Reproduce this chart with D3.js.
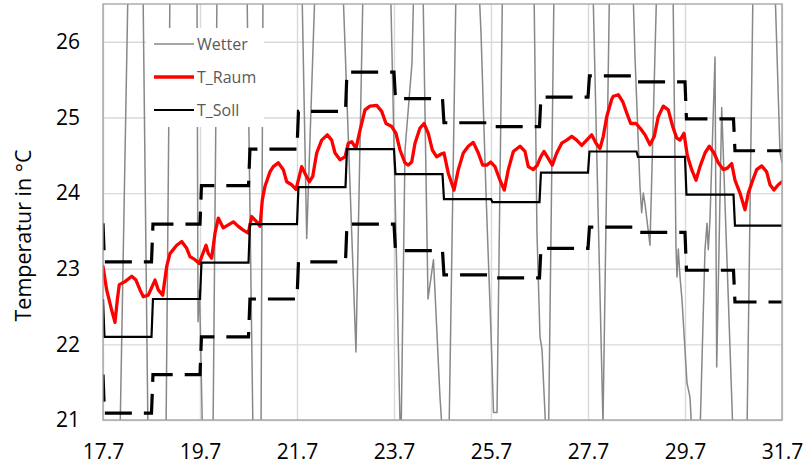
<!DOCTYPE html>
<html><head><meta charset="utf-8">
<script src="https://cdn.jsdelivr.net/npm/d3@7"></script>
<style>body{margin:0;background:#fff} svg{display:block}</style>
</head><body>
<svg id="c" width="806" height="468"></svg>
<script>
// ---- data ----
// time in days since 17.7 00:00
const tickDays = [0, 2, 4, 6, 8, 10, 12, 14];
const tickLabels = ["17.7", "19.7", "21.7", "23.7", "25.7", "27.7", "29.7", "31.7"];
const yTicks = [21, 22, 23, 24, 25, 26];

// T_Soll daily set point (first value = value before the first switch)
const soll  = [22.6, 22.1, 22.6, 23.08, 23.59, 24.08, 24.58, 24.25, 23.92, 23.88, 24.27, 24.55, 24.48, 23.98, 23.57];
// upper / lower comfort band (dashed)
const upper = [23.6, 23.09, 23.59, 24.1, 24.58, 25.08, 25.6, 25.25, 24.93, 24.88, 25.27, 25.55, 25.47, 24.98, 24.56];
const lower = [21.6, 21.09, 21.6, 22.1, 22.6, 23.09, 23.59, 23.24, 22.92, 22.88, 23.27, 23.55, 23.48, 22.98, 22.56];

// T_Raum [day, °C]
const raum = [
[0.0,23.03],[0.076,22.72],[0.18,22.45],[0.247,22.29],[0.295,22.59],[0.336,22.79],[0.454,22.83],[0.592,22.9],[0.68,22.85],[0.763,22.72],[0.831,22.63],[0.934,22.65],
[1.072,22.85],[1.14,22.72],[1.231,22.65],[1.313,23.03],[1.381,23.2],[1.52,23.31],[1.623,23.36],[1.726,23.27],[1.794,23.16],[1.897,23.12],[1.986,23.07],
[2.035,23.16],[2.124,23.31],[2.171,23.2],[2.241,23.14],[2.309,23.47],[2.377,23.67],[2.48,23.54],[2.584,23.58],[2.687,23.62],[2.79,23.56],[2.893,23.51],[2.996,23.47],
[3.066,23.69],[3.169,23.62],[3.237,23.56],[3.285,23.91],[3.34,24.09],[3.443,24.28],[3.511,24.35],[3.614,24.4],[3.718,24.31],[3.788,24.15],[3.891,24.11],[3.979,24.05],
[4.047,24.22],[4.097,24.35],[4.165,24.26],[4.254,24.15],[4.324,24.22],[4.406,24.53],[4.509,24.7],[4.625,24.77],[4.715,24.7],[4.784,24.53],[4.887,24.44],[4.99,24.48],
[5.058,24.66],[5.128,24.68],[5.216,24.59],[5.299,24.83],[5.402,25.1],[5.505,25.15],[5.643,25.16],[5.746,25.08],[5.835,24.92],[5.953,24.88],
[6.041,24.79],[6.124,24.57],[6.227,24.4],[6.295,24.37],[6.365,24.41],[6.433,24.66],[6.536,24.86],[6.619,24.92],[6.707,24.79],[6.79,24.57],[6.881,24.48],[6.984,24.52],
[7.031,24.53],[7.12,24.26],[7.237,24.04],[7.326,24.31],[7.429,24.53],[7.532,24.62],[7.635,24.67],[7.738,24.53],[7.829,24.37],[7.911,24.37],[7.994,24.41],
[8.082,24.35],[8.186,24.17],[8.274,24.04],[8.357,24.31],[8.46,24.55],[8.598,24.62],[8.701,24.55],[8.769,24.35],[8.872,24.31],[8.955,24.37],
[9.025,24.48],[9.093,24.55],[9.181,24.46],[9.264,24.37],[9.355,24.53],[9.458,24.66],[9.561,24.7],[9.664,24.75],[9.767,24.7],[9.87,24.63],[9.973,24.7],
[10.076,24.77],[10.165,24.66],[10.247,24.59],[10.315,24.75],[10.386,25.01],[10.489,25.24],[10.522,25.28],[10.625,25.3],[10.715,25.21],[10.798,25.06],[10.88,24.92],[10.99,24.92],
[11.072,24.86],[11.175,24.77],[11.278,24.64],[11.367,24.75],[11.449,25.01],[11.552,25.15],[11.655,25.1],[11.746,24.88],[11.828,24.73],[11.897,24.7],[11.979,24.79],
[12.047,24.5],[12.138,24.31],[12.227,24.17],[12.309,24.35],[12.412,24.53],[12.501,24.62],[12.598,24.53],[12.687,24.4],[12.79,24.31],[12.872,24.33],[12.963,24.39],
[13.031,24.17],[13.134,24.0],[13.237,23.78],[13.305,24.0],[13.396,24.17],[13.478,24.31],[13.581,24.36],[13.684,24.28],[13.753,24.11],[13.835,24.04],[13.923,24.11],[14.0,24.15]
];

// Wetter (outdoor) [day, °C] - mostly outside the visible range
const wetter = [
[0,17.5],
[0.351,20.8],[0.515,26.7],[0.67,31],
[0.825,26.7],[0.928,20.8],[1.113,17],
[1.299,20.8],[1.381,26.7],[1.649,33],
[1.938,26.7],[1.959,22.3],[1.99,22.72],[2.052,20.8],[2.155,18],
[2.268,20.8],[2.351,26.7],[2.66,33],
[2.969,26.7],[3.093,20.8],[3.175,19],
[3.258,20.8],[3.299,26.7],[3.69,33],
[4.103,26.7],[4.2,23.4],[4.371,26.7],[4.66,32],
[4.948,26.7],[5.216,21.9],[5.361,26.7],[5.691,32],
[5.93,26.7],[6.14,20.5],[6.227,24.57],[6.371,25.72],[6.406,26.7],[6.515,29],
[6.598,26.7],[6.701,22.6],[6.814,23.12],[6.948,21.3],[7.0,20.8],[7.072,19],
[7.134,20.8],[7.278,26.7],[7.526,32],
[7.753,26.7],[7.794,26.12],[7.897,24.0],[8.0,22.15],[8.052,21.1],[8.124,21.1],[8.237,26.7],[8.515,32],
[8.887,26.7],[8.948,23.47],[9.01,22.1],[9.052,21.93],[9.134,20.8],[9.155,20.3],
[9.186,20.8],[9.299,26.7],[9.67,31],
[10.103,26.7],[10.309,20.95],[10.443,26.7],[10.62,31],
[10.928,26.7],[10.969,25.8],[11.072,24.08],[11.107,23.74],[11.14,24.0],[11.175,23.86],[11.278,23.31],[11.416,26.7],[11.588,29],
[11.753,26.7],[11.814,23.29],[11.835,22.89],[11.862,23.26],[11.897,22.89],[11.938,22.59],[12.041,21.49],[12.103,21.3],[12.144,20.8],[12.227,19],
[12.309,20.8],[12.412,23.25],[12.454,23.6],[12.48,23.25],[12.515,23.65],[12.619,25.8],[12.654,21.7],[12.757,25.13],[12.99,20.8],[13.134,18.5],
[13.278,20.8],[13.402,26.7],[13.629,30],
[13.856,26.7],[13.959,24.53],[14.0,24.4]
];

const legendItems = [
  {name: "Wetter", color: "#888888", width: 1.4},
  {name: "T_Raum", color: "#ff0000", width: 3.3},
  {name: "T_Soll", color: "#000000", width: 2.2}
];

// ---- chart ----
const FONT = "'Open Sans', 'DejaVu Sans', sans-serif";
const L = 103, R = 782, T = 4, B = 420;
const x = d3.scaleLinear().domain([0, 14]).range([L, R]);
const y = d3.scaleLinear().domain([21, 26.5]).range([B, T]);
const svg = d3.select("#c");

svg.append("defs").append("clipPath").attr("id", "clip")
  .append("rect").attr("x", L).attr("y", T).attr("width", R - L).attr("height", B - T);

// gridlines + axes
const gy = svg.append("g").attr("transform", `translate(${L},0)`)
  .call(d3.axisLeft(y).tickValues(yTicks).tickFormat(d3.format("d")).tickSize(-(R - L)).tickPadding(23));
const gx = svg.append("g").attr("transform", `translate(0,${B})`)
  .call(d3.axisBottom(x).tickValues(tickDays).tickFormat((d, i) => tickLabels[i]).tickSize(-(B - T)).tickPadding(24));
[gx, gy].forEach(g => {
  g.select(".domain").remove();
  g.selectAll(".tick line").attr("stroke", "#d9d9d9").attr("stroke-width", 1.4);
  g.selectAll(".tick text").attr("fill", "#000").style("font-family", FONT).style("font-size", "21px");
});

// step path builder
function stepPoints(vals) {
  const pts = [[0, vals[0]]];
  for (let k = 0; k < vals.length - 1; k++) {
    pts.push([k + 0.03, vals[k + 1]]);
    pts.push([k + 1, vals[k + 1]]);
  }
  return pts;
}
const line = d3.line().x(d => x(d[0])).y(d => y(d[1]));

const plot = svg.append("g").attr("clip-path", "url(#clip)");
plot.append("path").datum(wetter).attr("d", line)
  .attr("fill", "none").attr("stroke", "#888888").attr("stroke-width", 1.5).attr("stroke-linejoin", "round");
plot.append("path").datum(raum).attr("d", line)
  .attr("fill", "none").attr("stroke", "#ff0000").attr("stroke-width", 3.3).attr("stroke-linejoin", "round").attr("stroke-linecap", "round");
plot.append("path").datum(stepPoints(soll)).attr("d", line)
  .attr("fill", "none").attr("stroke", "#000").attr("stroke-width", 2.2);
[upper, lower].forEach(v => {
  plot.append("path").datum(stepPoints(v)).attr("d", line)
    .attr("fill", "none").attr("stroke", "#000").attr("stroke-width", 3.2)
    .attr("stroke-dasharray", "27,12");
});

// plot border
svg.append("rect").attr("x", L).attr("y", T).attr("width", R - L).attr("height", B - T)
  .attr("fill", "none").attr("stroke", "#a0a0a0").attr("stroke-width", 1.3);

// y title
svg.append("text").attr("transform", "translate(31,235.5) rotate(-90)")
  .attr("text-anchor", "middle").style("font-family", FONT).style("font-size", "21.5px").attr("fill", "#000")
  .text("Temperatur in °C");

// legend
const lg = svg.append("g");
lg.append("rect").attr("x", 146).attr("y", 28).attr("width", 118).attr("height", 99).attr("fill", "#fff");
const rows = lg.selectAll("g.item").data(legendItems).join("g").attr("class", "item")
  .attr("transform", (d, i) => `translate(0,${44 + i * 33})`);
rows.append("line").attr("x1", 154).attr("x2", 194).attr("y1", 0).attr("y2", 0)
  .attr("stroke", d => d.color).attr("stroke-width", d => d.width);
rows.append("text").attr("x", 197).attr("y", 0).attr("dy", "0.35em")
  .style("font-family", FONT).style("font-size", "16px").attr("fill", "#595959").text(d => d.name);
</script>
</body></html>
